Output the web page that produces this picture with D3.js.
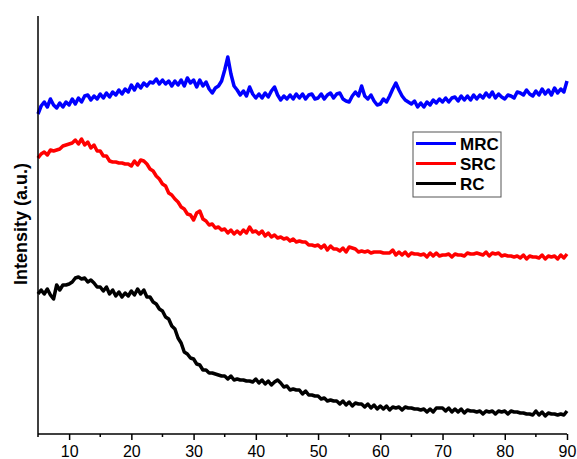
<!DOCTYPE html>
<html>
<head>
<meta charset="utf-8">
<script src="https://cdn.jsdelivr.net/npm/d3@7"></script>
<style>
    body { margin: 0; background: #fff; }
    svg { display: block; font-family: "Liberation Sans", Arial, sans-serif; }
</style>
</head>
<body>
<svg id="xrdChart" width="577" height="459"></svg>
<script>
// 2-theta grid: 5 to 90 deg, one reading every 0.5 deg
const angleStart = 5;
const angleStep = 0.5;

const seriesNames = ["MRC", "SRC", "RC"];
const seriesColors = ["#0000ff", "#ff0000", "#000000"];

// intensities (arbitrary units, stacked as in the original)
const mrcValues = [
    318,326,330,325,333,327,324,329,325,330,
    327,333,328,334,330,336,337,332,336,333,
    338,334,339,335,340,337,342,338,343,340,
    347,342,348,344,349,346,350,349,353,348,
    352,348,351,346,351,347,352,346,354,349,
    352,345,352,346,350,343,339,344,346,351,
    362,375,358,346,342,337,341,336,345,338,
    334,338,334,339,335,341,345,337,332,336,
    333,337,333,338,334,338,333,337,338,333,
    334,338,333,337,339,334,338,339,333,331,
    330,336,340,336,346,336,333,337,331,327,
    328,333,330,336,343,349,342,336,332,330,
    328,331,325,329,325,330,327,332,329,333,
    330,334,330,334,335,331,336,332,336,332,
    337,333,337,334,339,335,340,334,338,335,
    333,337,336,334,340,339,337,342,338,336,
    341,337,343,338,342,337,344,339,343,340,
    351
];
const srcValues = [
    274,278,280,277,282,281,282,283,286,287,
    288,289,292,288,293,287,290,284,287,281,
    281,276,276,271,270,270,269,269,268,268,
    266,271,267,272,271,268,263,261,256,253,
    248,246,239,237,233,230,225,223,218,217,
    212,219,221,213,211,207,208,204,205,202,
    203,199,202,198,201,198,202,199,205,200,
    201,198,201,196,199,195,197,194,195,193,
    194,191,193,190,191,190,190,187,187,186,
    187,184,187,182,186,183,183,181,184,180,
    185,184,183,180,181,180,181,179,180,180,
    180,179,179,179,182,177,180,177,180,176,
    179,178,178,177,178,175,179,176,179,176,
    177,177,178,175,178,177,177,176,179,178,
    178,179,178,177,180,176,179,178,179,176,
    177,176,176,175,176,174,177,173,176,175,
    175,174,177,173,176,175,176,173,177,174,
    178
];
const rcValues = [
    138,142,138,143,137,133,147,142,147,147,
    148,150,154,155,153,154,150,152,149,145,
    145,141,145,138,142,136,140,135,139,136,
    141,137,143,138,142,135,135,130,128,123,
    121,115,113,106,103,94,89,80,78,74,
    73,68,67,62,62,59,59,58,57,56,
    56,53,56,52,53,52,52,51,51,50,
    53,49,52,48,51,47,50,52,49,45,
    46,42,43,42,42,38,41,37,37,36,
    36,33,34,31,32,31,31,28,31,27,
    30,26,29,28,28,25,28,24,27,23,
    26,23,26,22,25,24,25,22,25,24,
    24,23,23,22,23,20,23,20,24,24,
    24,21,24,20,23,20,23,19,22,21,
    21,20,21,18,21,20,21,18,21,20,
    21,18,21,20,20,19,19,18,18,17,
    21,17,20,16,19,18,18,17,18,17,
    21
];

const xTicks = [10, 20, 30, 40, 50, 60, 70, 80, 90];
const xMinorTicks = [5, 15, 25, 35, 45, 55, 65, 75, 85];

const svg = d3.select("#xrdChart");

const x = d3.scaleLinear().domain([5, 90]).range([38, 567]);
const y = d3.scaleLinear().domain([-2, 416]).range([434, 16]);

const allSeries = [mrcValues, srcValues, rcValues].map((vals, i) => ({
    name: seriesNames[i],
    color: seriesColors[i],
    points: vals.map((v, j) => [angleStart + j * angleStep, v])
}));

const line = d3.line()
    .x(d => x(d[0]))
    .y(d => y(d[1]));

// draw back to front so blue sits on top like the original
svg.append("g")
    .selectAll("path")
    .data(allSeries.slice().reverse())
    .enter()
    .append("path")
    .attr("d", d => line(d.points))
    .attr("fill", "none")
    .attr("stroke", d => d.color)
    .attr("stroke-width", 3.5)
    .attr("stroke-linejoin", "round")

// x axis with major labels and minor ticks
const xAxis = svg.append("g")
    .attr("transform", `translate(0,${y(-2)})`)
    .call(d3.axisBottom(x).tickValues(xTicks).tickSize(6).tickPadding(6).tickFormat(d3.format("d")))
xAxis.select(".domain").attr("stroke-width", 1.5).attr("d", `M${x(5)},0H${x(90)}`);
xAxis.selectAll(".tick line").attr("stroke-width", 1.5);
xAxis.selectAll("text").style("font-size", "16px").attr("fill", "#000");

svg.append("g")
    .attr("transform", `translate(0,${y(-2)})`)
    .selectAll("line")
    .data(xMinorTicks)
    .enter()
    .append("line")
    .attr("x1", d => x(d))
    .attr("x2", d => x(d))
    .attr("y1", 0)
    .attr("y2", 3)
    .attr("stroke", "#000")
    .attr("stroke-width", 1.5)

// y axis: bare line, no ticks
svg.append("line")
    .attr("x1", x(5))
    .attr("x2", x(5))
    .attr("y1", y(416))
    .attr("y2", y(-2))
    .attr("stroke", "#000")
    .attr("stroke-width", 1.5)

svg.append("text")
    .attr("transform", `translate(27,224) rotate(-90)`)
    .style("text-anchor", "middle")
    .style("font-size", "18px")
    .style("font-weight", "bold")
    .text("Intensity (a.u.)")

// legend
const legend = svg.append("g").attr("transform", "translate(413,132)");
legend.append("rect")
    .attr("width", 88)
    .attr("height", 65)
    .attr("fill", "#fff")
    .attr("stroke", "#555")
    .attr("stroke-width", 1)

const rows = legend.selectAll("g.row")
    .data(allSeries)
    .enter()
    .append("g")
    .attr("class", "row")
    .attr("transform", (d, i) => `translate(0,${11.5 + i * 20})`)

rows.append("line")
    .attr("x1", 3)
    .attr("x2", 43)
    .attr("stroke", d => d.color)
    .attr("stroke-width", 3)

rows.append("text")
    .attr("x", 47)
    .attr("y", 6)
    .style("font-size", "17px")
    .style("font-weight", "bold")
    .text(d => d.name)
</script>
</body>
</html>
